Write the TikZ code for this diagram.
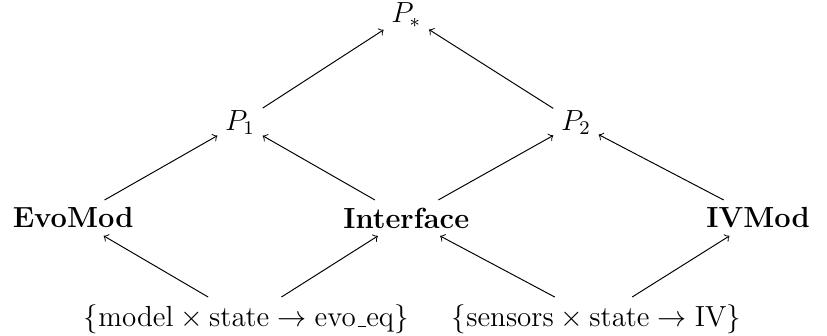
\documentclass[12pt,tikz,border=0pt]{standalone}
\usepackage{tikz}
\usetikzlibrary{arrows.meta,positioning}
\newcommand{\lowbar}{\leavevmode\kern.06em\vbox{\hrule width.3em}}

\begin{document}
\begin{tikzpicture}[>=to,
        every node/.style={inner sep=3pt},
        mod/.style={font=\bfseries}]
        \useasboundingbox (0,0) rectangle (11.99,4.86);
        \node (pstar) at (5.89,4.64) {$P_*$};
        \node (p1) at (3.48,3.08) {$P_1$};
        \node (p2) at (8.35,3.08) {$P_2$};
        \node[mod] (evo) at (1.06,1.70) {EvoMod};
        \node[mod] (iface) at (5.89,1.70) {Interface};
        \node[mod] (iv) at (10.99,1.70) {IVMod};
        \node (evoeq) at (3.57,0.23) {$\{\mathrm{model}\times\mathrm{state}\rightarrow\mbox{evo\lowbar eq}\}$};
        \node (sens) at (8.65,0.23) {$\{\mathrm{sensors}\times\mathrm{state}\rightarrow\mathrm{IV}\}$};
        % upper layers
        \draw[->] (p1) -- (pstar);
        \draw[->] (p2) -- (pstar);
        \draw[->] (evo) -- (p1);
        \draw[->] (iface) -- (p1);
        \draw[->] (iface) -- (p2);
        \draw[->] (iv) -- (p2);
        % lower layer
        \draw[->] (evoeq) -- (evo);
        \draw[->] (evoeq) -- (iface);
        \draw[->] (sens) -- (iface);
        \draw[->] (sens) -- (iv);
      \end{tikzpicture}
\end{document}
